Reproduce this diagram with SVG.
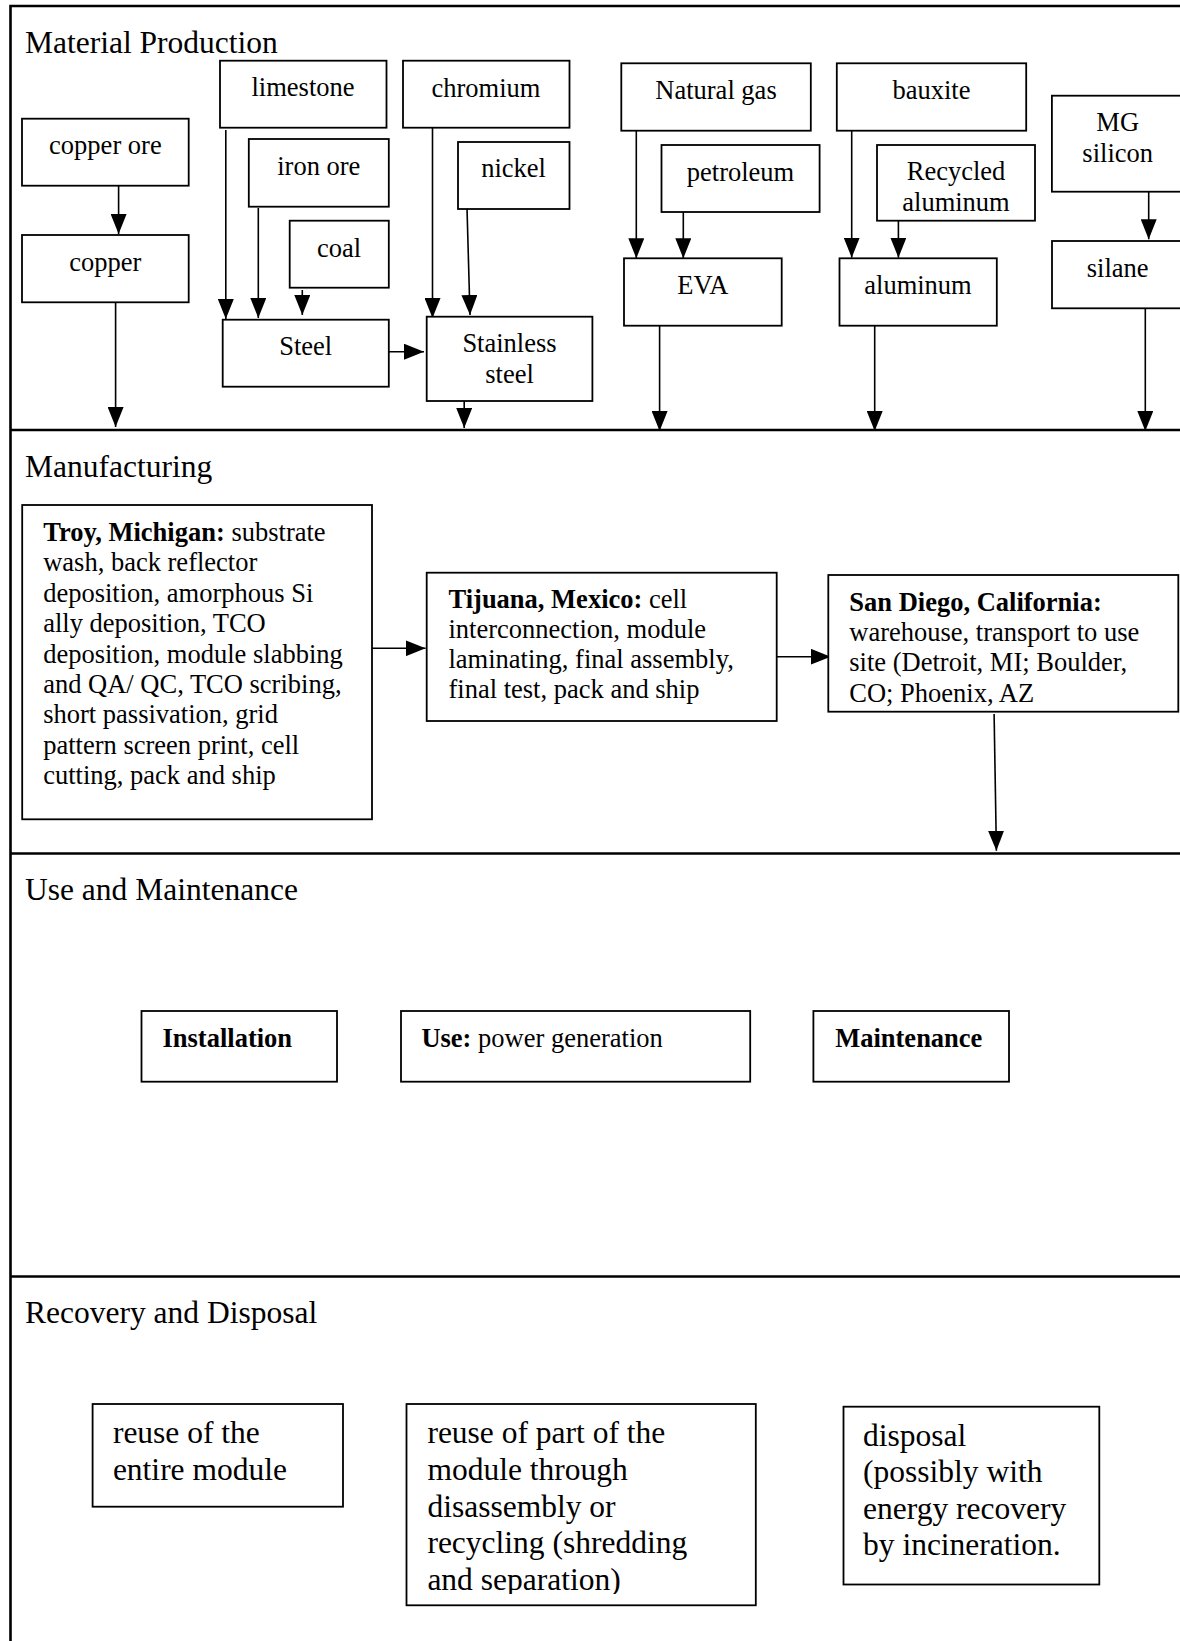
<svg xmlns="http://www.w3.org/2000/svg" width="1180" height="1641" viewBox="0 0 1180 1641">
<style>
text{font-family:"Liberation Serif","Times New Roman",serif;fill:#000}
.t{font-size:26.5px}
.h{font-size:31.5px}
.r{font-size:31.5px}
.b{font-weight:bold}
.c{text-anchor:middle}
.box{fill:#fff;stroke:#000;stroke-width:1.8}
.frame{fill:none;stroke:#000;stroke-width:2.6}
.edge{fill:none;stroke:#000;stroke-width:1.6;marker-end:url(#ah)}
</style>
<defs>
<marker id="ah" markerUnits="userSpaceOnUse" markerWidth="20" markerHeight="16" refX="20" refY="8" orient="auto">
<path d="M0,0 L20,8 L0,16 Z" fill="#000"/>
</marker>
<clipPath id="clipB2"><rect x="406" y="1404" width="351" height="190"/></clipPath>
</defs>
<rect x="0" y="0" width="1180" height="1641" fill="#fff"/>

<g id="frame">
<path class="frame" d="M10.5,1641 V6 H1180"/>
<line class="frame" x1="10.5" y1="430" x2="1180" y2="430"/>
<line class="frame" x1="10.5" y1="853.5" x2="1180" y2="853.5"/>
<line class="frame" x1="10.5" y1="1276.5" x2="1180" y2="1276.5"/>
<text class="h" x="25" y="52.5">Material Production</text>
<text class="h" x="25" y="476.5">Manufacturing</text>
<text class="h" x="25" y="900">Use and Maintenance</text>
<text class="h" x="25" y="1323">Recovery and Disposal</text>
</g>

<g id="connectors">
<line class="edge" x1="118.6" y1="182" x2="118.6" y2="234"/>
<line class="edge" x1="115.6" y1="299" x2="115.6" y2="427"/>
<line class="edge" x1="225.8" y1="130" x2="225.8" y2="319"/>
<line class="edge" x1="258.3" y1="208" x2="258.3" y2="318"/>
<line class="edge" x1="302.3" y1="290" x2="302.3" y2="315"/>
<line class="edge" x1="384.6" y1="351.7" x2="424" y2="351.7"/>
<line class="edge" x1="432.5" y1="126" x2="432.5" y2="318"/>
<line class="edge" x1="467" y1="208" x2="470" y2="315"/>
<line class="edge" x1="464.2" y1="401" x2="464.2" y2="428"/>
<line class="edge" x1="636.3" y1="130.7" x2="636.3" y2="258.3"/>
<line class="edge" x1="683.3" y1="208" x2="683.3" y2="258.3"/>
<line class="edge" x1="659.6" y1="325.7" x2="659.6" y2="431"/>
<line class="edge" x1="851.7" y1="130.7" x2="851.7" y2="257.7"/>
<line class="edge" x1="898.4" y1="208" x2="898.4" y2="257.7"/>
<line class="edge" x1="874.7" y1="325.7" x2="874.7" y2="431"/>
<line class="edge" x1="1148.7" y1="188.3" x2="1148.7" y2="239.3"/>
<line class="edge" x1="1145.3" y1="304" x2="1145.3" y2="431"/>
<line class="edge" x1="368" y1="648.3" x2="425.6" y2="648.3"/>
<line class="edge" x1="776.3" y1="656.7" x2="830.7" y2="656.7"/>
<line class="edge" x1="994.1" y1="714" x2="996.4" y2="850.7"/>
</g>

<g id="limestone"><rect class="box" x="220" y="60.7" width="166.5" height="67"/><text class="t c" x="303" y="95.7">limestone</text></g>
<g id="chromium"><rect class="box" x="403" y="60.7" width="166.5" height="67"/><text class="t c" x="486" y="96.7">chromium</text></g>
<g id="copper-ore"><rect class="box" x="22" y="118.7" width="166.7" height="67"/><text class="t c" x="105.4" y="154">copper ore</text></g>
<g id="iron-ore"><rect class="box" x="248.8" y="139" width="140" height="67.7"/><text class="t c" x="318.8" y="175">iron ore</text></g>
<g id="nickel"><rect class="box" x="458" y="142" width="111.5" height="67"/><text class="t c" x="513.5" y="177">nickel</text></g>
<g id="coal"><rect class="box" x="289.7" y="220.7" width="99.1" height="67"/><text class="t c" x="339" y="256.7">coal</text></g>
<g id="copper"><rect class="box" x="22" y="235" width="166.7" height="67.3"/><text class="t c" x="105.4" y="270.7">copper</text></g>
<g id="steel"><rect class="box" x="222.7" y="319.7" width="166.1" height="67"/><text class="t c" x="305.7" y="355">Steel</text></g>
<g id="stainless-steel"><rect class="box" x="426.7" y="316.7" width="165.7" height="84.3"/><text class="t c" x="509.5" y="351.7">Stainless</text><text class="t c" x="509.5" y="382.7">steel</text></g>
<g id="natural-gas"><rect class="box" x="621.3" y="63.3" width="189.5" height="67.4"/><text class="t c" x="716" y="99">Natural gas</text></g>
<g id="bauxite"><rect class="box" x="836.8" y="63.3" width="189.4" height="67.4"/><text class="t c" x="931.5" y="99">bauxite</text></g>
<g id="mg-silicon"><rect class="box" x="1051.9" y="95.7" width="140" height="96"/><text class="t c" x="1117.7" y="130.7">MG</text><text class="t c" x="1117.7" y="161.7">silicon</text></g>
<g id="petroleum"><rect class="box" x="661.5" y="145" width="158.1" height="67"/><text class="t c" x="740.5" y="181">petroleum</text></g>
<g id="recycled-aluminum"><rect class="box" x="877" y="145" width="158" height="75.7"/><text class="t c" x="956" y="180">Recycled</text><text class="t c" x="956" y="210.7">aluminum</text></g>
<g id="eva"><rect class="box" x="624" y="258.3" width="157.7" height="67.4"/><text class="t c" x="702.8" y="294">EVA</text></g>
<g id="aluminum"><rect class="box" x="839.5" y="258.3" width="157.3" height="67.4"/><text class="t c" x="918" y="294">aluminum</text></g>
<g id="silane"><rect class="box" x="1052" y="241" width="140" height="67.3"/><text class="t c" x="1117.7" y="276.7">silane</text></g>

<g id="troy">
<rect class="box" x="22.2" y="505" width="349.8" height="314.3"/>
<text class="t" x="43.2" y="541"><tspan class="b">Troy, Michigan:</tspan> substrate</text>
<text class="t" x="43.2" y="571.4">wash, back reflector</text>
<text class="t" x="43.2" y="601.8">deposition, amorphous Si</text>
<text class="t" x="43.2" y="632.2">ally deposition, TCO</text>
<text class="t" x="43.2" y="662.6">deposition, module slabbing</text>
<text class="t" x="43.2" y="693">and QA/ QC, TCO scribing,</text>
<text class="t" x="43.2" y="723.4">short passivation, grid</text>
<text class="t" x="43.2" y="753.8">pattern screen print, cell</text>
<text class="t" x="43.2" y="784.2">cutting, pack and ship</text>
</g>
<g id="tijuana">
<rect class="box" x="426.7" y="572.7" width="350" height="148.3"/>
<text class="t" x="448.5" y="608.3"><tspan class="b">Tijuana, Mexico:</tspan> cell</text>
<text class="t" x="448.5" y="638.3">interconnection, module</text>
<text class="t" x="448.5" y="668.3">laminating, final assembly,</text>
<text class="t" x="448.5" y="698.3">final test, pack and ship</text>
</g>
<g id="san-diego">
<rect class="box" x="828.3" y="575" width="350" height="136.7"/>
<text class="t" x="849.3" y="610.5"><tspan class="b">San Diego, California:</tspan></text>
<text class="t" x="849.3" y="640.8">warehouse, transport to use</text>
<text class="t" x="849.3" y="670.8">site (Detroit, MI; Boulder,</text>
<text class="t" x="849.3" y="701.5">CO; Phoenix, AZ</text>
</g>

<g id="installation"><rect class="box" x="141.5" y="1011" width="195.5" height="70.7"/><text class="t b" x="162.5" y="1047.3">Installation</text></g>
<g id="use"><rect class="box" x="401" y="1011" width="349.2" height="70.7"/><text class="t" x="421.4" y="1047.3"><tspan class="b">Use:</tspan> power generation</text></g>
<g id="maintenance"><rect class="box" x="813.4" y="1011" width="195.6" height="70.7"/><text class="t b" x="835.2" y="1047.3">Maintenance</text></g>

<g id="reuse-module"><rect class="box" x="92.6" y="1404" width="250.4" height="102.7"/>
<text class="r" x="112.9" y="1443.3">reuse of the</text>
<text class="r" x="112.9" y="1480">entire module</text></g>
<g id="reuse-part"><rect class="box" x="406.5" y="1404" width="349.3" height="201.3"/>
<g clip-path="url(#clipB2)">
<text class="r" x="427.4" y="1443.3">reuse of part of the</text>
<text class="r" x="427.4" y="1480">module through</text>
<text class="r" x="427.4" y="1516.7">disassembly or</text>
<text class="r" x="427.4" y="1553.3">recycling (shredding</text>
<text class="r" x="427.4" y="1590">and separation)</text>
</g></g>
<g id="disposal"><rect class="box" x="843.5" y="1406.7" width="255.8" height="177.8"/>
<text class="r" x="863" y="1445.5">disposal</text>
<text class="r" x="863" y="1482">(possibly with</text>
<text class="r" x="863" y="1518.5">energy recovery</text>
<text class="r" x="863" y="1555">by incineration.</text></g>
</svg>
